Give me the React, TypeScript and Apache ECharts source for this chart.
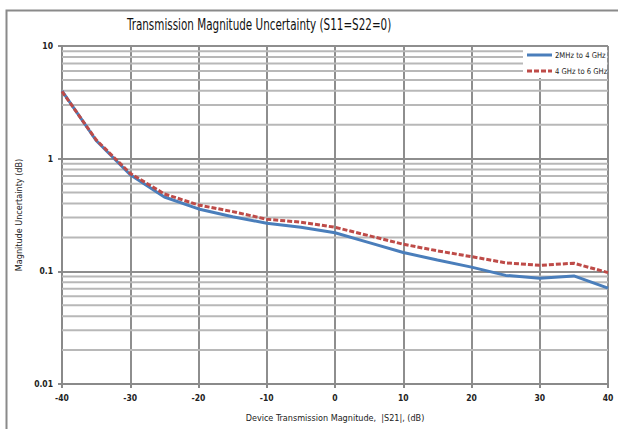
import React, { useEffect, useRef } from "react";
import * as echarts from "echarts";

const xValues = [-40, -35, -30, -25, -20, -15, -10, -5, 0, 5, 10, 15, 20, 25, 30, 35, 40];
const lowBand = [4.0, 1.45, 0.72, 0.457, 0.358, 0.305, 0.267, 0.246, 0.22, 0.18, 0.147, 0.126, 0.109, 0.092, 0.087, 0.091, 0.071];
const highBand = [3.95, 1.47, 0.74, 0.486, 0.388, 0.339, 0.29, 0.273, 0.246, 0.207, 0.174, 0.152, 0.135, 0.119, 0.113, 0.118, 0.0975];
const minorGrid = [0.02, 0.03, 0.04, 0.05, 0.06, 0.07, 0.08, 0.09, 0.2, 0.3, 0.4, 0.5, 0.6, 0.7, 0.8, 0.9, 2, 3, 4, 5, 6, 7, 8, 9];
const seriesNames = ["2MHz to 4 GHz", "4 GHz to 6 GHz"];
const titleText = "Transmission Magnitude Uncertainty (S11=S22=0)";
const xName = "Device Transmission Magnitude,  |S21|, (dB)";
const yName = "Magnitude Uncertainty (dB)";

const FONT = "'Liberation Sans Narrow', 'DejaVu Sans Condensed', 'Arial Narrow', sans-serif";
const BLUE = "#4a7ebb";
const RED = "#be4b48";

export default function App() {
  const ref = useRef<HTMLDivElement>(null);
  useEffect(() => {
    if (!ref.current) return;
    const chart = echarts.init(ref.current, null, { renderer: "svg" });
    const minorSeries = minorGrid.map((v) => ({
      type: "line",
      data: [
        [-40, v],
        [40, v],
      ],
      symbol: "none",
      silent: true,
      z: 1,
      lineStyle: { color: "#b8b8b8", width: 2 },
    }));
    chart.setOption({
      animation: false,
      backgroundColor: "#ffffff",
      grid: { left: 62, right: 10, top: 46, bottom: 45, containLabel: false },
      xAxis: {
        type: "value",
        min: -40,
        max: 40,
        interval: 10,
        axisLine: { show: true, onZero: false, lineStyle: { color: "#8a8a8a", width: 2 } },
        axisTick: { show: true, length: 4, lineStyle: { color: "#8a8a8a", width: 2 } },
        axisLabel: { color: "#222", fontSize: 8.5, fontWeight: "bold", fontFamily: FONT, margin: 9 },
        splitLine: { show: true, lineStyle: { color: "#8e8e8e", width: 2 } },
        name: xName,
        nameLocation: "middle",
        nameGap: 29,
        nameTextStyle: { color: "#222", fontSize: 9, fontFamily: FONT },
      },
      yAxis: {
        type: "log",
        logBase: 10,
        min: 0.01,
        max: 10,
        axisLine: { show: true, onZero: false, lineStyle: { color: "#8a8a8a", width: 2 } },
        axisTick: { show: true, length: 4, lineStyle: { color: "#8a8a8a", width: 2 } },
        axisLabel: {
          color: "#222",
          fontSize: 8.5,
          fontWeight: "bold",
          fontFamily: FONT,
          margin: 9,
          formatter: (v: number) => String(Number(v.toPrecision(3))),
        },
        splitLine: { show: true, lineStyle: { color: "#8e8e8e", width: 2 } },
        name: yName,
        nameLocation: "middle",
        nameGap: 34,
        nameTextStyle: { color: "#222", fontSize: 9, fontFamily: FONT },
      },
      graphic: [
        {
          type: "rect",
          left: 4,
          top: 8,
          shape: { width: 640, height: 460 },
          style: { fill: "none", stroke: "#8a8a8a", lineWidth: 2 },
          silent: true,
          z: -10,
        },
        {
          type: "text",
          x: 127,
          y: 16,
          scaleX: 0.7,
          style: { text: titleText, fill: "#111", fontSize: 16.5, fontFamily: FONT },
          z: 100,
        },
        {
          type: "rect",
          shape: { x: 523, y: 47, width: 84, height: 31 },
          style: { fill: "#ffffff" },
          z: 100,
        },
        {
          type: "line",
          shape: { x1: 527, y1: 55, x2: 552, y2: 55 },
          style: { stroke: BLUE, lineWidth: 3 },
          z: 101,
        },
        {
          type: "text",
          x: 555,
          y: 55,
          scaleX: 0.95,
          style: { text: seriesNames[0], fill: "#222", fontSize: 8, fontFamily: FONT, verticalAlign: "middle" },
          z: 101,
        },
        {
          type: "line",
          shape: { x1: 527, y1: 71, x2: 552, y2: 71 },
          style: { stroke: RED, lineWidth: 3, lineDash: [5, 2] },
          z: 101,
        },
        {
          type: "text",
          x: 555,
          y: 71,
          scaleX: 0.95,
          style: { text: seriesNames[1], fill: "#222", fontSize: 8, fontFamily: FONT, verticalAlign: "middle" },
          z: 101,
        },
      ],
      series: [
        ...minorSeries,
        {
          type: "line",
          name: seriesNames[0],
          data: xValues.map((x, i) => [x, lowBand[i]]),
          symbol: "none",
          lineStyle: { color: BLUE, width: 3 },
          z: 3,
        },
        {
          type: "line",
          name: seriesNames[1],
          data: xValues.map((x, i) => [x, highBand[i]]),
          symbol: "none",
          lineStyle: { color: RED, width: 3, type: [5, 2] },
          z: 4,
        },
      ],
    });
    return () => chart.dispose();
  }, []);
  return (
    <div
      ref={ref}
      style={{ position: "fixed", left: 0, top: 0, width: 618, height: 429, background: "#fff" }}
    />
  );
}
